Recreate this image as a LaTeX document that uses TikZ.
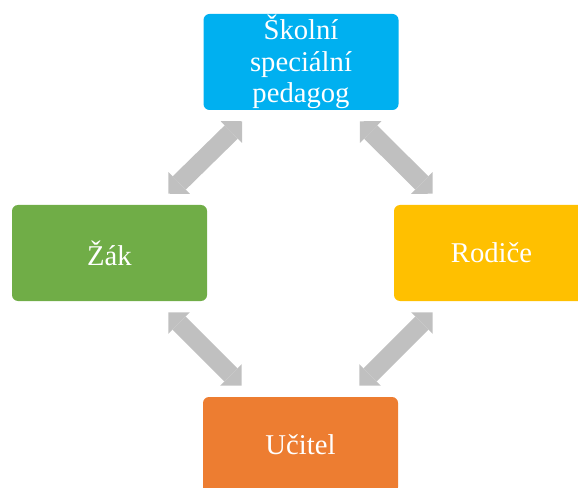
\documentclass[tikz,border=0pt]{standalone}
\usepackage{fontspec}
\setmainfont{Liberation Serif}
\usetikzlibrary{arrows.meta,calc}
\definecolor{cblue}{HTML}{00B0F0}
\definecolor{cgreen}{HTML}{70AD47}
\definecolor{cyellow}{HTML}{FFC000}
\definecolor{corange}{HTML}{ED7D31}
\definecolor{cgrey}{HTML}{C0C0C0}
\begin{document}
\begin{tikzpicture}[x=0.75pt,y=-0.75pt,
  box/.style={rounded corners=4.5pt, minimum width=146.25pt, minimum height=72pt,
    inner sep=0pt, text=white, align=center,
    font=\fontsize{21.5pt}{23.5pt}\selectfont},
  link/.style={draw=cgrey, line width=14pt,
    {Triangle[width=23pt,length=11.5pt,line width=0pt]}-{Triangle[width=23pt,length=11.5pt,line width=0pt]}}
]
\useasboundingbox (0,0) rectangle (578,488);
\clip (0,0) rectangle (578,488);
\node[box, fill=cblue] (top) at (301,62) {Školní\\speciální\\pedagog};
\node[box, fill=cgreen] (left) at (109.5,253) {Žák};
\node[box, fill=cyellow] (right) at (491.5,253) {Rodiče};
\node[box, fill=corange] (bottom) at (300.5,445) {Učitel};
\coordinate (a1) at ($(top.south west)+(39,11)$);
\coordinate (a2) at ($(left.north east)+(-39,-11)$);
\coordinate (b1) at ($(top.south east)+(-39,11)$);
\coordinate (b2) at ($(right.north west)+(39,-11)$);
\coordinate (c1) at ($(left.south east)+(-39,11)$);
\coordinate (c2) at ($(bottom.north west)+(39,-11)$);
\coordinate (d1) at ($(right.south west)+(39,11)$);
\coordinate (d2) at ($(bottom.north east)+(-39,-11)$);
\draw[link] (a1) -- (a2);
\draw[link] (b1) -- (b2);
\draw[link] (c1) -- (c2);
\draw[link] (d1) -- (d2);
\end{tikzpicture}
\end{document}
